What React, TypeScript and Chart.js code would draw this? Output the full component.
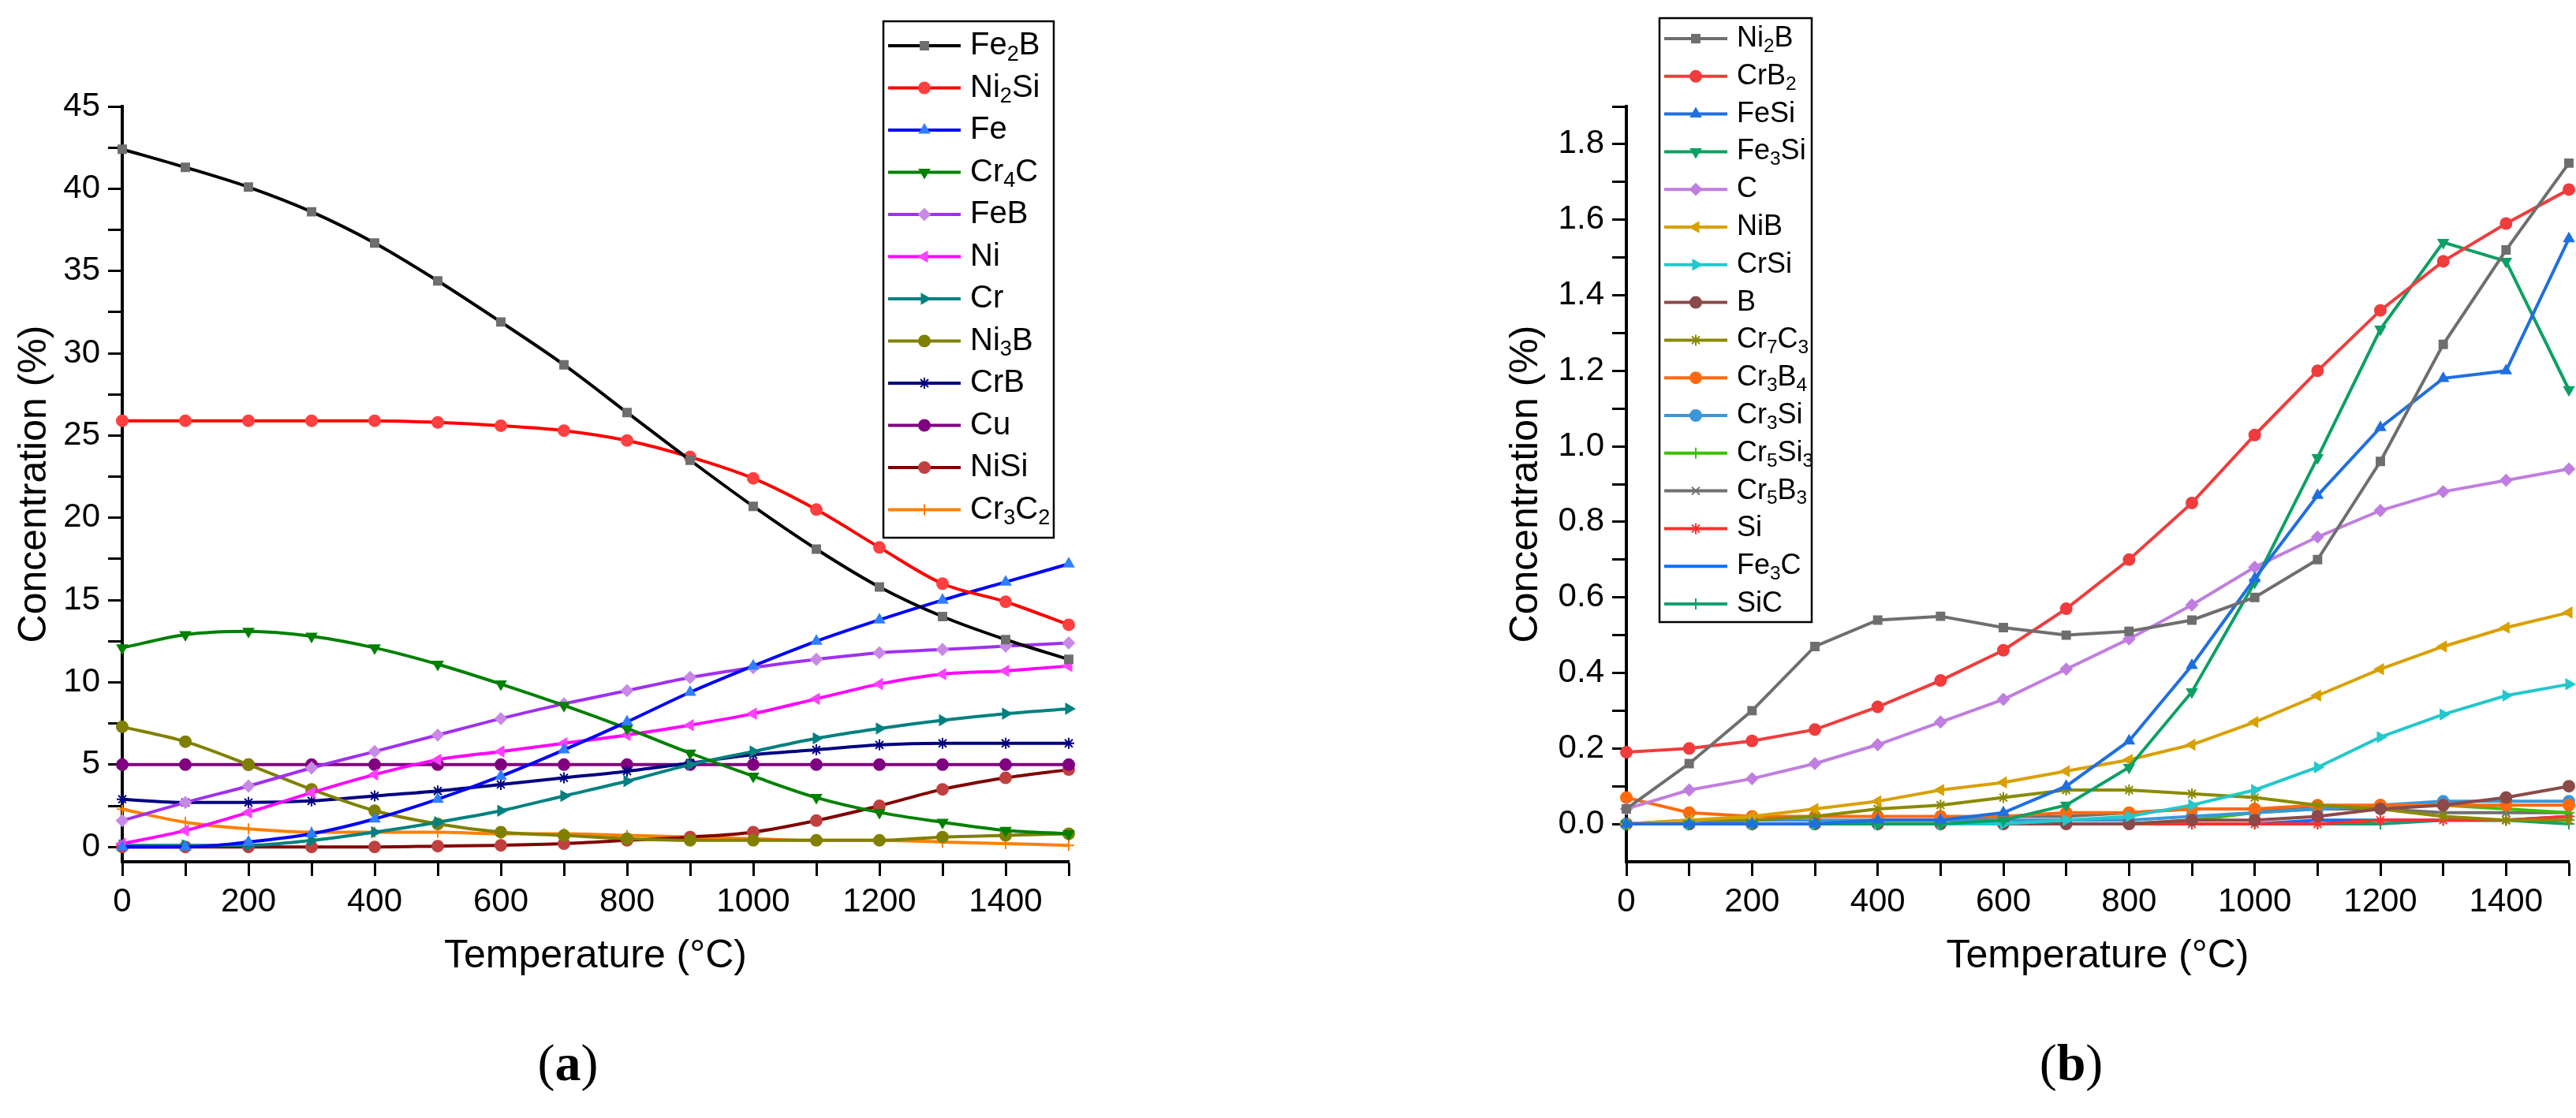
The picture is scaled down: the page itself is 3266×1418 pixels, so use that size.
import { useEffect, useRef } from "react";
import { Chart, registerables } from "chart.js";
import { drawPoint } from "chart.js/helpers";
import React from "react";

Chart.register(...registerables);

const temperatures = [0, 100, 200, 300, 400, 500, 600, 700, 800, 900, 1000, 1100, 1200, 1300, 1400, 1500];

// panel (a)
const fe2B = [42.4, 41.3, 40.1, 38.6, 36.7, 34.4, 31.9, 29.3, 26.4, 23.5, 20.7, 18.1, 15.8, 14.0, 12.6, 11.4];
const ni2Si = [25.9, 25.9, 25.9, 25.9, 25.9, 25.8, 25.6, 25.3, 24.7, 23.7, 22.4, 20.5, 18.2, 16.0, 14.9, 13.5];
const fe = [0, 0, 0.3, 0.8, 1.7, 2.9, 4.3, 5.9, 7.6, 9.4, 11.0, 12.5, 13.8, 15.0, 16.1, 17.2];
const cr4C = [12.1, 12.9, 13.1, 12.8, 12.1, 11.1, 9.9, 8.6, 7.2, 5.7, 4.3, 3.0, 2.1, 1.5, 1.0, 0.8];
const feB = [1.6, 2.7, 3.7, 4.8, 5.8, 6.8, 7.8, 8.7, 9.5, 10.3, 10.9, 11.4, 11.8, 12.0, 12.2, 12.4];
const ni = [0.2, 1.0, 2.1, 3.3, 4.4, 5.3, 5.8, 6.3, 6.8, 7.4, 8.1, 9.0, 9.9, 10.5, 10.7, 11.0];
const cr = [0.1, 0.1, 0.1, 0.4, 0.9, 1.5, 2.2, 3.1, 4.0, 5.0, 5.8, 6.6, 7.2, 7.7, 8.1, 8.4];
const ni3B = [7.3, 6.4, 5.0, 3.5, 2.2, 1.4, 0.9, 0.7, 0.5, 0.4, 0.4, 0.4, 0.4, 0.6, 0.7, 0.8];
const crB = [2.9, 2.7, 2.7, 2.8, 3.1, 3.4, 3.8, 4.2, 4.6, 5.1, 5.6, 5.9, 6.2, 6.3, 6.3, 6.3];
const cu = [5, 5, 5, 5, 5, 5, 5, 5, 5, 5, 5, 5, 5, 5, 5, 5];
const niSi = [0, 0, 0, 0, 0, 0.05, 0.1, 0.2, 0.4, 0.6, 0.9, 1.6, 2.5, 3.5, 4.2, 4.7];
const cr3C2 = [2.3, 1.5, 1.1, 0.9, 0.9, 0.9, 0.8, 0.8, 0.7, 0.6, 0.5, 0.4, 0.4, 0.3, 0.2, 0.1];

// panel (b)
const ni2B = [0.04, 0.16, 0.30, 0.47, 0.54, 0.55, 0.52, 0.50, 0.51, 0.54, 0.60, 0.70, 0.96, 1.27, 1.52, 1.75];
const crB2 = [0.19, 0.20, 0.22, 0.25, 0.31, 0.38, 0.46, 0.57, 0.70, 0.85, 1.03, 1.20, 1.36, 1.49, 1.59, 1.68];
const feSi = [0, 0, 0, 0, 0.01, 0.01, 0.03, 0.10, 0.22, 0.42, 0.65, 0.87, 1.05, 1.18, 1.20, 1.55];
const fe3Si = [0, 0, 0, 0, 0, 0, 0.01, 0.05, 0.15, 0.35, 0.64, 0.97, 1.31, 1.54, 1.49, 1.15];
const carbon = [0.04, 0.09, 0.12, 0.16, 0.21, 0.27, 0.33, 0.41, 0.49, 0.58, 0.68, 0.76, 0.83, 0.88, 0.91, 0.94];
const niB = [0, 0.01, 0.02, 0.04, 0.06, 0.09, 0.11, 0.14, 0.17, 0.21, 0.27, 0.34, 0.41, 0.47, 0.52, 0.56];
const crSi = [0, 0, 0, 0, 0, 0, 0, 0.01, 0.02, 0.05, 0.09, 0.15, 0.23, 0.29, 0.34, 0.37];
const boron = [0, 0, 0, 0, 0, 0, 0, 0, 0, 0.01, 0.01, 0.02, 0.04, 0.05, 0.07, 0.10];
const cr7C3 = [0, 0.01, 0.01, 0.02, 0.04, 0.05, 0.07, 0.09, 0.09, 0.08, 0.07, 0.05, 0.04, 0.02, 0.01, 0.01];
const cr3B4 = [0.07, 0.03, 0.02, 0.02, 0.02, 0.02, 0.02, 0.03, 0.03, 0.04, 0.04, 0.05, 0.05, 0.05, 0.05, 0.05];
const cr3Si = [0, 0, 0.01, 0.01, 0.01, 0.01, 0.01, 0.01, 0.01, 0.02, 0.03, 0.04, 0.05, 0.06, 0.06, 0.06];
const cr5Si3 = [0, 0, 0, 0, 0, 0, 0, 0, 0, 0.01, 0.03, 0.04, 0.05, 0.05, 0.04, 0.03];
const cr5B3 = [0, 0, 0, 0, 0.01, 0.01, 0.02, 0.02, 0.03, 0.04, 0.04, 0.04, 0.04, 0.03, 0.03, 0.03];
const silicon = [0, 0, 0, 0, 0, 0, 0, 0, 0, 0, 0, 0, 0.01, 0.01, 0.01, 0.02];
const fe3C = [0, 0, 0, 0, 0, 0, 0, 0, 0, 0, 0, 0.01, 0.01, 0.01, 0.01, 0.02];
const siC = [0, 0, 0, 0, 0, 0, 0, 0, 0, 0, 0, 0, 0, 0.01, 0.01, 0];

const yTicksA = [0, 5, 10, 15, 20, 25, 30, 35, 40, 45];
const yTicksB = [0, 0.2, 0.4, 0.6, 0.8, 1.0, 1.2, 1.4, 1.6, 1.8];
const xTicks = [0, 200, 400, 600, 800, 1000, 1200, 1400];

const FONT = "'Liberation Sans', Arial, sans-serif";

type S = [string, number[], string, string, string, number?];
// label, data, line colour, marker colour, point style, rotation
const seriesA: S[] = [
  ["Fe2B", fe2B, "#000000", "#6e6e6e", "rect"],
  ["Ni2Si", ni2Si, "#ff0000", "#ff4040", "circle"],
  ["Fe", fe, "#0000ff", "#2f7fff", "triangle"],
  ["Cr4C", cr4C, "#008000", "#008000", "triangle", 180],
  ["FeB", feB, "#a030f0", "#c88ae6", "rectRot"],
  ["Ni", ni, "#ff00ff", "#ff40ff", "triangle", -90],
  ["Cr", cr, "#008080", "#008080", "triangle", 90],
  ["Ni3B", ni3B, "#808000", "#808000", "circle"],
  ["CrB", crB, "#000080", "#000080", "star"],
  ["Cu", cu, "#800080", "#800080", "circle"],
  ["NiSi", niSi, "#800000", "#c04040", "circle"],
  ["Cr3C2", cr3C2, "#ff8000", "#ff8000", "cross"],
];

const seriesB: S[] = [
  ["Ni2B", ni2B, "#6e6e6e", "#6e6e6e", "rect"],
  ["CrB2", crB2, "#f03c3c", "#f03c3c", "circle"],
  ["FeSi", feSi, "#1f6fe0", "#1f6fe0", "triangle"],
  ["Fe3Si", fe3Si, "#0ca064", "#0ca064", "triangle", 180],
  ["C", carbon, "#c07ee0", "#c07ee0", "rectRot"],
  ["NiB", niB, "#d9a000", "#d9a000", "triangle", -90],
  ["CrSi", crSi, "#22c8cc", "#22c8cc", "triangle", 90],
  ["B", boron, "#8b4a4a", "#8b4a4a", "circle"],
  ["Cr7C3", cr7C3, "#8a8a00", "#8a8a00", "star"],
  ["Cr3B4", cr3B4, "#ff6a10", "#ff6a10", "circle"],
  ["Cr3Si", cr3Si, "#3c96d8", "#3c96d8", "circle"],
  ["Cr5Si3", cr5Si3, "#3cc000", "#3cc000", "cross"],
  ["Cr5B3", cr5B3, "#707070", "#707070", "crossRot"],
  ["Si", silicon, "#ff3030", "#ff3030", "star"],
  ["Fe3C", fe3C, "#0a6eff", "#0a6eff", "line"],
  ["SiC", siC, "#12a070", "#12a070", "cross"],
];

// draws label with digits as subscripts
function drawSubLabel(ctx: CanvasRenderingContext2D, text: string, x: number, y: number, size: number) {
  let cx = x;
  for (const part of text.split(/(\d+)/)) {
    if (!part) continue;
    const sub = /^\d+$/.test(part);
    ctx.font = `${sub ? size * 0.68 : size}px ${FONT}`;
    ctx.fillText(part, cx, sub ? y + size * 0.28 : y);
    cx += ctx.measureText(part).width;
  }
  return cx - x;
}

function makeLegend(box: { x: number; y: number; w: number; h: number; y0: number; step: number; lineW: number; font: number }) {
  return {
    id: "boxLegend",
    afterDraw(chart: any) {
      const ctx = chart.ctx as CanvasRenderingContext2D;
      ctx.save();
      ctx.fillStyle = "#fff";
      ctx.fillRect(box.x, box.y, box.w, box.h);
      ctx.strokeStyle = "#000";
      ctx.lineWidth = 2.5;
      ctx.strokeRect(box.x, box.y, box.w, box.h);
      chart.data.datasets.forEach((ds: any, i: number) => {
        const y = box.y0 + i * box.step;
        const x1 = box.x + 6;
        const x2 = x1 + box.lineW;
        ctx.strokeStyle = ds.borderColor;
        ctx.lineWidth = 4;
        ctx.beginPath();
        ctx.moveTo(x1, y);
        ctx.lineTo(x2, y);
        ctx.stroke();
        if (ds.pointStyle !== "line") {
          ctx.fillStyle = ds.pointBackgroundColor;
          ctx.strokeStyle = ds.pointBorderColor;
          ctx.lineWidth = 2;
          drawPoint(ctx, { pointStyle: ds.pointStyle, radius: 7, rotation: ds.pointRotation || 0, borderWidth: 2 } as any, (x1 + x2) / 2, y);
        }
        ctx.fillStyle = "#000";
        ctx.textBaseline = "middle";
        ctx.textAlign = "left";
        drawSubLabel(ctx, ds.label, x2 + 12, y, box.font);
      });
      ctx.restore();
    },
  };
}

function buildChart(canvas: HTMLCanvasElement, series: S[], yMin: number, yMax: number, yTicks: number[], yFmt: (v: number) => string, padLeft: number, yWidth: number, padRight: number, smooth: boolean, legend: any) {
  const yMinor: number[] = [];
  const stepY = yTicks[1] - yTicks[0];
  for (let v = yTicks[0]; v <= yMax + 1e-9; v += stepY / 2) yMinor.push(Math.round(v * 1000) / 1000);
  const xMinor: number[] = [];
  for (let v = 0; v <= 1500; v += 100) xMinor.push(v);
  return new Chart(canvas, {
    type: "line",
    data: {
      datasets: series.map(([label, d, line, mark, style, rot]) => ({
        label,
        data: d.map((v, i) => ({ x: temperatures[i], y: v })),
        borderColor: line,
        backgroundColor: mark,
        pointBackgroundColor: mark,
        pointBorderColor: mark,
        pointStyle: style as any,
        pointRotation: rot || 0,
        pointRadius: style === "line" ? 0 : 7,
        pointBorderWidth: 2,
        borderWidth: 4,
        cubicInterpolationMode: smooth ? ("monotone" as const) : ("default" as const),
        tension: smooth ? 0.4 : 0,
        clip: false as any,
      })),
    },
    options: {
      animation: false,
      responsive: false,
      layout: { padding: { left: padLeft, top: 135, right: padRight, bottom: 125 } },
      plugins: { legend: { display: false }, tooltip: { enabled: false } },
      scales: {
        x: {
          type: "linear",
          min: 0,
          max: 1500,
          afterBuildTicks: (s: any) => { s.ticks = xMinor.map((v) => ({ value: v })); },
          afterFit: (s: any) => { s.height = 200; },
          ticks: {
            color: "#000",
            font: { family: FONT, size: 42 },
            padding: 8,
            maxRotation: 0,
            autoSkip: false,
            callback: (v: any) => (xTicks.includes(v) ? String(v) : ""),
          },
          grid: { drawOnChartArea: false, tickLength: 18, tickWidth: 3, tickColor: "#000" },
          border: { color: "#000", width: 4 },
          title: { display: true, text: "Temperature (°C)", color: "#000", font: { family: FONT, size: 50 }, padding: { top: 0, bottom: 50 } },
        },
        y: {
          type: "linear",
          min: yMin,
          max: yMax,
          afterBuildTicks: (s: any) => { s.ticks = yMinor.map((v) => ({ value: v })); },
          afterFit: (s: any) => { s.width = yWidth; },
          ticks: {
            color: "#000",
            font: { family: FONT, size: 42 },
            padding: 10,
            autoSkip: false,
            callback: (v: any) => (yTicks.some((t) => Math.abs(t - v) < 1e-6) ? yFmt(v) : ""),
          },
          grid: { drawOnChartArea: false, tickLength: 18, tickWidth: 3, tickColor: "#000" },
          border: { color: "#000", width: 4 },
          title: { display: true, text: "Concentration (%)", color: "#000", font: { family: FONT, size: 50 }, padding: { top: 14, bottom: 0 } },
        },
      },
    },
    plugins: [legend],
  });
}

const App: React.FC = () => {
  const refA = useRef<HTMLCanvasElement>(null);
  const refB = useRef<HTMLCanvasElement>(null);

  useEffect(() => {
    let a: Chart | null = null;
    let b: Chart | null = null;
    if (refA.current) {
      a = buildChart(refA.current, seriesA, -0.9, 45, yTicksA, (v) => String(v), 0, 155, 278, true,
        makeLegend({ x: 1120, y: 27, w: 216, h: 655, y0: 58, step: 53.5, lineW: 92, font: 40 }));
    }
    if (refB.current) {
      b = buildChart(refB.current, seriesB, -0.1, 1.9, yTicksB, (v) => v.toFixed(1), 258, 171, 2, false,
        makeLegend({ x: 471, y: 23, w: 193, h: 766, y0: 49, step: 47.8, lineW: 80, font: 36 }));
    }
    return () => {
      if (a) a.destroy();
      if (b) b.destroy();
    };
  }, []);

  const capStyle: React.CSSProperties = { position: "absolute", top: 1310, fontFamily: "'Liberation Serif', 'Times New Roman', serif", fontSize: 66, transform: "translateX(-50%)" };

  return (
    <div style={{ position: "absolute", left: 0, top: 0, width: 3266, height: 1418, background: "#fff", overflow: "hidden" }}>
      <canvas ref={refA} width={1633} height={1418} style={{ position: "absolute", left: 0, top: 0 }} />
      <canvas ref={refB} width={1633} height={1418} style={{ position: "absolute", left: 1633, top: 0 }} />
      <div style={{ ...capStyle, left: 720 }}>(<b>a</b>)</div>
      <div style={{ ...capStyle, left: 2626 }}>(<b>b</b>)</div>
    </div>
  );
};

export default App;
